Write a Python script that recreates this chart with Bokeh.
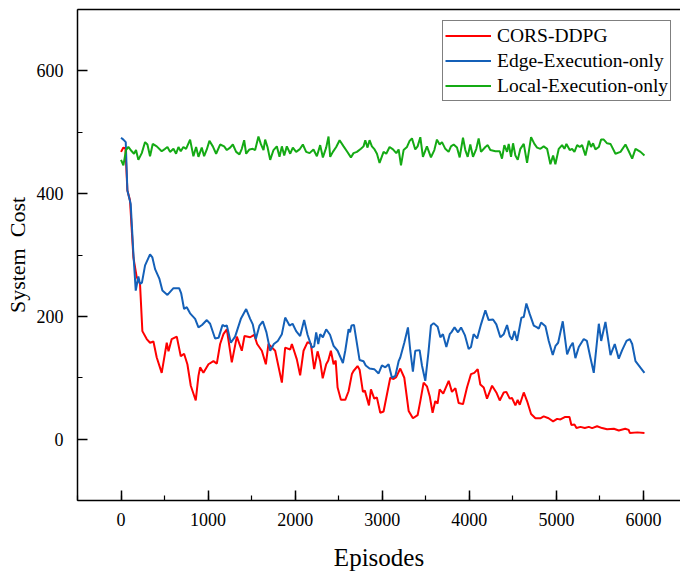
from bokeh.plotting import figure
from bokeh.models import (Range1d, SingleIntervalTicker, LinearAxis, FixedTicker,
                          Legend, LegendItem)
from bokeh.embed import file_html
from bokeh.resources import INLINE

# ---------------- data ----------------
cors_ep = [0, 27, 50, 73, 103, 142, 180, 218, 245, 295, 333, 372, 410, 467, 525, 545, 582, 640,
           686, 724, 762, 801, 858, 889, 908, 946, 1004, 1061, 1100, 1138, 1176, 1215, 1272, 1330,
           1387, 1418, 1483, 1529, 1563, 1617, 1663, 1693, 1770, 1847, 1885, 1943, 1962, 2019,
           2057, 2096, 2142, 2180, 2218, 2257, 2287, 2316, 2356, 2380, 2410, 2441, 2465, 2487,
           2525, 2575, 2613, 2651, 2670, 2716, 2740, 2778, 2800, 2847, 2870, 2908, 2938, 2977,
           3015, 3061, 3092, 3130, 3160, 3207, 3253, 3303, 3352, 3406, 3437, 3475, 3513, 3545,
           3578, 3609, 3635, 3659, 3700, 3763, 3800, 3840, 3877, 3927, 3973, 4019, 4057, 4096,
           4126, 4165, 4203, 4261, 4310, 4349, 4395, 4425, 4464, 4490, 4529, 4555, 4579, 4625,
           4663, 4709, 4759, 4815, 4854, 4910, 4962, 5008, 5046, 5096, 5150, 5172, 5207, 5230,
           5276, 5326, 5372, 5410, 5467, 5525, 5582, 5660, 5716, 5790, 5830, 5843, 5930, 6011]
cors_cost = [468, 475, 474, 405, 389, 296, 264, 253, 176, 163, 157, 159, 133, 108, 157, 143, 163, 167,
             135, 139, 122, 87, 63, 103, 117, 108, 122, 127, 123, 155, 171, 179, 125, 167,
             144, 168, 166, 170, 155, 144, 122, 155, 144, 92, 149, 146, 155, 130,
             104, 144, 158, 155, 114, 143, 127, 99, 122, 128, 144, 122, 128, 84,
             64, 64, 78, 106, 111, 119, 113, 77, 79, 55, 81, 66, 68, 43,
             45, 78, 100, 98, 101, 115, 100, 46, 34, 39, 62, 92, 86, 70,
             43, 62, 58, 81, 74, 95, 77, 83, 59, 57, 84, 106, 108, 114,
             89, 84, 66, 87, 76, 63, 76, 77, 66, 67, 55, 64, 56, 76,
             62, 41, 34, 34, 37, 34, 29, 33, 32, 36, 36, 23, 24, 18,
             20, 18, 20, 18, 21, 18, 16, 17, 14, 17, 15, 10, 11, 10]

edge_ep = [0, 27, 54, 73, 111, 142, 169, 199, 218, 240, 276, 333, 360, 391, 441, 475, 533, 602,
           667, 690, 724, 755, 793, 851, 889, 930, 985, 1023, 1080, 1120, 1165, 1188, 1215, 1261,
           1310, 1376, 1437, 1483, 1513, 1548, 1590, 1628, 1670, 1713, 1755, 1800, 1847, 1885,
           1935, 1970, 2011, 2057, 2103, 2142, 2192, 2218, 2241, 2265, 2287, 2318, 2356, 2400,
           2441, 2487, 2548, 2575, 2613, 2630, 2647, 2675, 2739, 2785, 2810, 2854, 2908, 2958,
           2996, 3035, 3073, 3111, 3150, 3188, 3207, 3253, 3295, 3322, 3352, 3379, 3429, 3456,
           3494, 3530, 3559, 3590, 3636, 3667, 3697, 3736, 3775, 3793, 3830, 3870, 3905, 3950,
           3992, 4019, 4049, 4090, 4134, 4184, 4222, 4272, 4310, 4356, 4395, 4433, 4464, 4490,
           4518, 4548, 4598, 4625, 4655, 4693, 4740, 4778, 4797, 4824, 4874, 4912, 4958, 4990,
           5020, 5073, 5123, 5160, 5188, 5218, 5257, 5314, 5350, 5390, 5429, 5487, 5514, 5563,
           5621, 5670, 5716, 5755, 5805, 5843, 5870, 5908, 6011]
edge_cost = [491, 488, 484, 405, 383, 302, 242, 265, 253, 255, 283, 301, 296, 277, 261, 242, 235, 246,
             246, 238, 212, 215, 205, 196, 182, 186, 194, 188, 164, 165, 186, 184, 185, 157,
             167, 196, 212, 196, 187, 163, 185, 192, 174, 144, 155, 160, 171, 198,
             185, 188, 176, 168, 194, 170, 149, 151, 174, 155, 171, 166, 179, 170,
             152, 144, 124, 144, 179, 174, 185, 186, 129, 127, 120, 115, 114, 107,
             120, 117, 122, 100, 103, 127, 133, 157, 182, 144, 110, 144, 145, 120,
             95, 141, 185, 189, 183, 166, 171, 150, 171, 174, 182, 174, 182, 169,
             147, 150, 171, 164, 187, 210, 194, 195, 187, 166, 171, 186, 168, 162,
             176, 160, 198, 199, 221, 204, 185, 182, 180, 190, 184, 160, 137, 152,
             157, 192, 138, 151, 157, 132, 150, 163, 160, 133, 108, 188, 160, 191,
             137, 155, 131, 145, 160, 163, 155, 127, 108]

local_ep = [0, 27, 57, 84, 123, 149, 172, 199, 238, 276, 303, 333, 364, 410, 467, 506, 533, 563,
            602, 632, 659, 686, 716, 747, 793, 831, 862, 889, 927, 954, 985, 1015, 1054, 1092,
            1138, 1184, 1215, 1253, 1284, 1322, 1360, 1387, 1414, 1437, 1475, 1513, 1540, 1578,
            1605, 1636, 1655, 1682, 1713, 1751, 1789, 1820, 1847, 1874, 1904, 1943, 1973, 2011,
            2050, 2088, 2126, 2165, 2210, 2249, 2287, 2318, 2356, 2383, 2402, 2433, 2471, 2510,
            2556, 2594, 2640, 2670, 2709, 2755, 2785, 2805, 2831, 2854, 2881, 2912, 2939, 2969,
            3015, 3046, 3084, 3123, 3161, 3188, 3215, 3245, 3284, 3314, 3341, 3379, 3406, 3437,
            3467, 3513, 3559, 3598, 3628, 3659, 3686, 3724, 3762, 3789, 3820, 3858, 3889, 3927,
            3954, 3981, 4011, 4042, 4080, 4107, 4134, 4184, 4211, 4241, 4299, 4349, 4375, 4402,
            4433, 4452, 4479, 4502, 4529, 4556, 4586, 4625, 4663, 4709, 4747, 4778, 4816, 4854,
            4893, 4931, 4962, 4988, 5027, 5065, 5092, 5115, 5153, 5180, 5207, 5238, 5268, 5295,
            5333, 5372, 5398, 5421, 5448, 5487, 5513, 5544, 5582, 5621, 5678, 5736, 5793, 5831,
            5870, 5908, 5966, 6011]
local_cost = [455, 446, 471, 476, 469, 465, 471, 455, 466, 484, 480, 461, 481, 477, 469, 473, 476, 468,
              473, 465, 476, 469, 476, 473, 488, 461, 476, 460, 475, 461, 472, 486, 477, 465,
              480, 477, 471, 475, 480, 468, 464, 473, 487, 465, 472, 473, 471, 493,
              481, 471, 488, 476, 455, 471, 477, 460, 477, 462, 477, 465, 475, 468,
              472, 480, 468, 466, 472, 461, 479, 459, 475, 493, 460, 468, 476, 487,
              477, 469, 459, 466, 468, 473, 477, 487, 475, 487, 477, 472, 465, 450,
              468, 465, 476, 472, 466, 472, 446, 471, 476, 486, 490, 472, 477, 492,
              460, 477, 459, 471, 488, 480, 484, 473, 468, 477, 480, 475, 459, 491,
              471, 460, 480, 460, 473, 490, 468, 476, 479, 471, 469, 469, 457, 479,
              468, 481, 460, 482, 462, 455, 473, 481, 450, 492, 481, 475, 473, 477,
              473, 448, 462, 448, 473, 479, 473, 481, 471, 473, 468, 479, 476, 479,
              462, 486, 476, 482, 472, 476, 488, 488, 482, 481, 465, 468, 480, 469,
              457, 473, 468, 462]

series_names = ["CORS-DDPG", "Edge-Execution-only", "Local-Execution-only"]
series_colors = ["#FF0000", "#1460B8", "#14AA14"]
x_label = "Episodes"
y_label = "System \u00a0Cost"

FONT = "Liberation Serif"

p = figure(width=680, height=576, output_backend="svg", toolbar_location=None,
           x_range=Range1d(-500, 6425), y_range=Range1d(-100, 700),
           min_border_left=77, min_border_right=0, min_border_top=9, min_border_bottom=76)
p.background_fill_color = "white"
p.border_fill_color = "white"
p.outline_line_color = None
p.grid.visible = False

r1 = p.line(cors_ep, cors_cost, line_color=series_colors[0], line_width=2)
r2 = p.line(edge_ep, edge_cost, line_color=series_colors[1], line_width=2)
r3 = p.line(local_ep, local_cost, line_color=series_colors[2], line_width=2)

p.xaxis.ticker = SingleIntervalTicker(interval=1000, num_minor_ticks=2)
p.yaxis.ticker = SingleIntervalTicker(interval=200, num_minor_ticks=2)

for ax in (p.xaxis[0], p.yaxis[0]):
    ax.axis_line_color = "black"
    ax.axis_line_width = 1.5
    ax.major_tick_line_color = "black"
    ax.minor_tick_line_color = "black"
    ax.major_tick_line_width = 1.5
    ax.minor_tick_line_width = 1.2
    ax.major_tick_in = 10
    ax.major_tick_out = 0
    ax.minor_tick_in = 5
    ax.minor_tick_out = 0
    ax.major_label_text_font = FONT
    ax.major_label_text_font_size = "18px"
    ax.major_label_text_color = "black"
    ax.axis_label_text_font = FONT
    ax.axis_label_text_font_style = "normal"
    ax.axis_label_text_color = "black"

p.xaxis.axis_label = x_label
p.yaxis.axis_label = y_label
p.xaxis.axis_label_text_font_size = "25px"
p.yaxis.axis_label_text_font_size = "22px"
p.xaxis.major_label_standoff = 12
p.xaxis.axis_label_standoff = 15
p.yaxis.major_label_standoff = 14
p.yaxis.axis_label_standoff = 4

top_axis = LinearAxis(ticker=FixedTicker(ticks=[]), axis_line_color="black", axis_line_width=1.5,
                      major_tick_in=0, major_tick_out=0, minor_tick_in=0, minor_tick_out=0,
                      major_label_standoff=0, major_label_text_font_size="0px")
p.add_layout(top_axis, "above")

legend = Legend(items=[LegendItem(label=series_names[0], renderers=[r1]),
                       LegendItem(label=series_names[1], renderers=[r2]),
                       LegendItem(label=series_names[2], renderers=[r3])],
                location=(365, 399))
legend.label_text_font = FONT
legend.label_text_font_size = "19.5px"
legend.label_text_color = "black"
legend.glyph_width = 46
legend.glyph_height = 25
legend.label_height = 25
legend.label_standoff = 6
legend.spacing = 0
legend.padding = 2
legend.margin = 0
legend.border_line_color = "black"
legend.border_line_width = 1
legend.background_fill_alpha = 1
p.add_layout(legend, "center")

open("out.html", "w").write(file_html(p, INLINE))
